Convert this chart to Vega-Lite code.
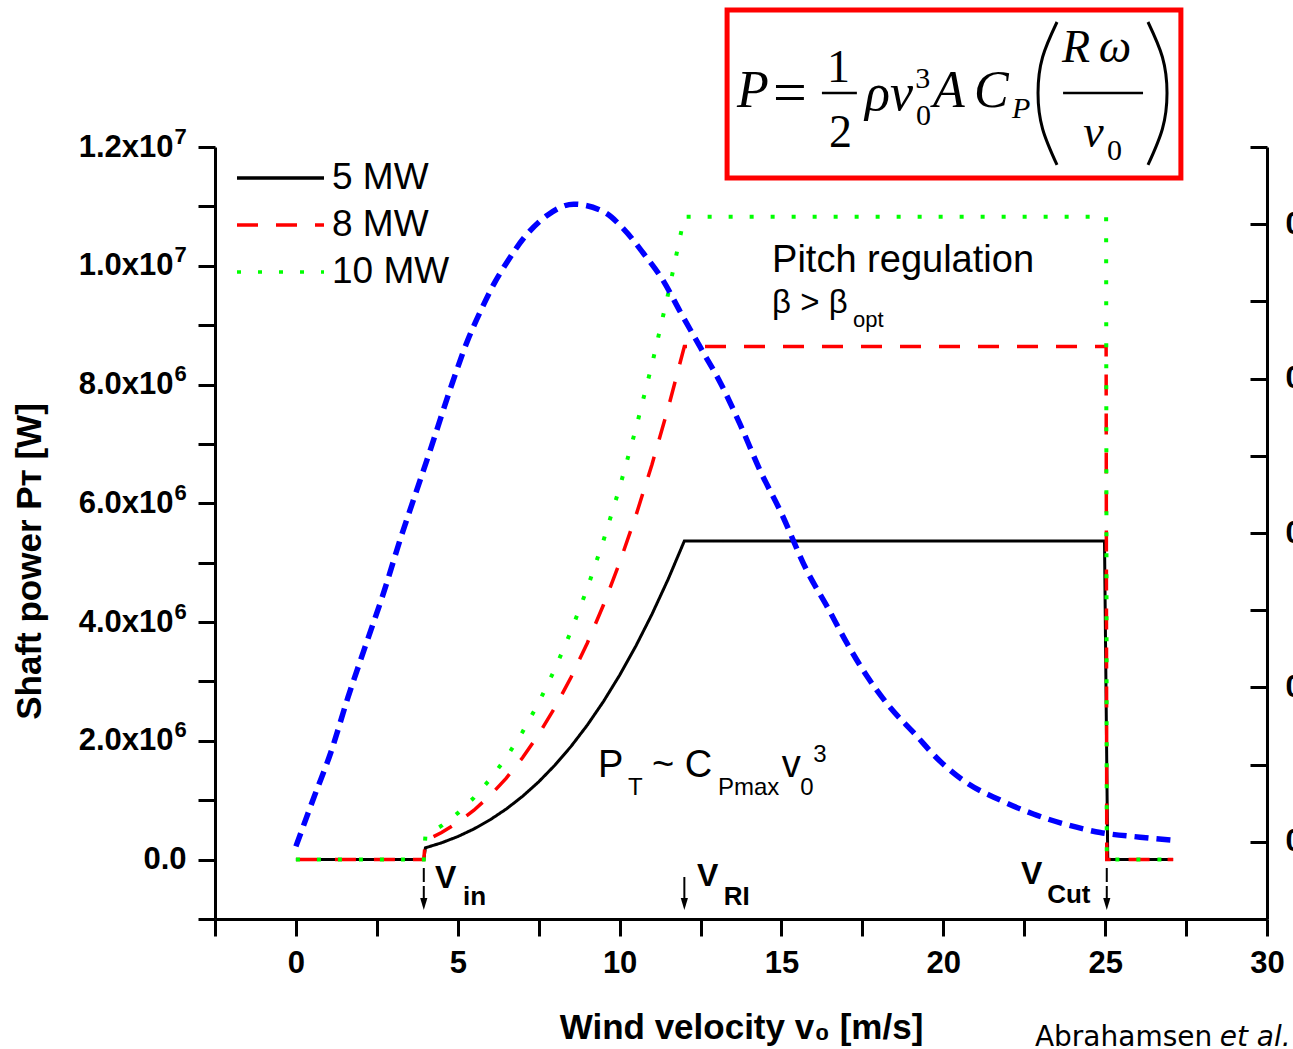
{
  "$schema": "https://vega.github.io/schema/vega-lite/v6.json",
  "width": 1052,
  "height": 772,
  "autosize": {"type": "none"},
  "padding": {"left": 215, "top": 147, "right": 26, "bottom": 130},
  "background": "white",
  "config": {
    "view": {"stroke": null},
    "axis": {"grid": false, "domainColor": "#000000", "domainWidth": 3, "tickColor": "#000000", "tickWidth": 3, "labelFont": "Liberation Sans", "labelFontWeight": "bold", "labelFontSize": 31, "labelColor": "#000000", "titleFont": "Liberation Sans", "titleFontWeight": "bold", "titleFontSize": 35, "titleColor": "#000000", "labelOverlap": false, "labelFlush": false, "labelBound": false}
  },
  "datasets": {
    "power": [
      {"series": "5 MW", "v": 0, "P": 0}, {"series": "5 MW", "v": 3.95, "P": 0}, {"series": "5 MW", "v": 4, "P": 198720}, {"series": "5 MW", "v": 4.5, "P": 282943}, {"series": "5 MW", "v": 5, "P": 388125}, {"series": "5 MW", "v": 5.5, "P": 516594}, {"series": "5 MW", "v": 6, "P": 670680}, {"series": "5 MW", "v": 6.5, "P": 852711}, {"series": "5 MW", "v": 7, "P": 1065015}, {"series": "5 MW", "v": 7.5, "P": 1309922}, {"series": "5 MW", "v": 8, "P": 1589760}, {"series": "5 MW", "v": 8.5, "P": 1906858}, {"series": "5 MW", "v": 9, "P": 2263545}, {"series": "5 MW", "v": 9.5, "P": 2662149}, {"series": "5 MW", "v": 10, "P": 3105000}, {"series": "5 MW", "v": 10.5, "P": 3594426}, {"series": "5 MW", "v": 11, "P": 4132755}, {"series": "5 MW", "v": 11.5, "P": 4722317}, {"series": "5 MW", "v": 12, "P": 5365440}, {"series": "5 MW", "v": 24.98, "P": 5365440}, {"series": "5 MW", "v": 25.08, "P": 0}, {"series": "5 MW", "v": 27.1, "P": 0},
      {"series": "8 MW", "v": 0, "P": 0}, {"series": "8 MW", "v": 3.95, "P": 0}, {"series": "8 MW", "v": 4, "P": 320000}, {"series": "8 MW", "v": 4.5, "P": 455625}, {"series": "8 MW", "v": 5, "P": 625000}, {"series": "8 MW", "v": 5.5, "P": 831875}, {"series": "8 MW", "v": 6, "P": 1080000}, {"series": "8 MW", "v": 6.5, "P": 1373125}, {"series": "8 MW", "v": 7, "P": 1715000}, {"series": "8 MW", "v": 7.5, "P": 2109375}, {"series": "8 MW", "v": 8, "P": 2560000}, {"series": "8 MW", "v": 8.5, "P": 3070625}, {"series": "8 MW", "v": 9, "P": 3645000}, {"series": "8 MW", "v": 9.5, "P": 4286875}, {"series": "8 MW", "v": 10, "P": 5000000}, {"series": "8 MW", "v": 10.5, "P": 5788125}, {"series": "8 MW", "v": 11, "P": 6655000}, {"series": "8 MW", "v": 11.5, "P": 7604375}, {"series": "8 MW", "v": 12, "P": 8640000}, {"series": "8 MW", "v": 25.03, "P": 8640000}, {"series": "8 MW", "v": 25.05, "P": 0}, {"series": "8 MW", "v": 27.1, "P": 0},
      {"series": "10 MW", "v": 0, "P": 0}, {"series": "10 MW", "v": 3.95, "P": 0}, {"series": "10 MW", "v": 4, "P": 400960}, {"series": "10 MW", "v": 4.5, "P": 570898}, {"series": "10 MW", "v": 5, "P": 783125}, {"series": "10 MW", "v": 5.5, "P": 1042339}, {"series": "10 MW", "v": 6, "P": 1353240}, {"series": "10 MW", "v": 6.5, "P": 1720526}, {"series": "10 MW", "v": 7, "P": 2148895}, {"series": "10 MW", "v": 7.5, "P": 2643047}, {"series": "10 MW", "v": 8, "P": 3207680}, {"series": "10 MW", "v": 8.5, "P": 3847493}, {"series": "10 MW", "v": 9, "P": 4567185}, {"series": "10 MW", "v": 9.5, "P": 5371454}, {"series": "10 MW", "v": 10, "P": 6265000}, {"series": "10 MW", "v": 10.5, "P": 7252521}, {"series": "10 MW", "v": 11, "P": 8338715}, {"series": "10 MW", "v": 11.5, "P": 9528282}, {"series": "10 MW", "v": 12, "P": 10825920}, {"series": "10 MW", "v": 25.03, "P": 10825920}, {"series": "10 MW", "v": 25.05, "P": 0}, {"series": "10 MW", "v": 27.1, "P": 0}
    ],
    "cp": [
      {"v": 0.0, "Cp": -0.003}, {"v": 0.56, "Cp": 0.029}, {"v": 1.08, "Cp": 0.058}, {"v": 1.6, "Cp": 0.093}, {"v": 2.1, "Cp": 0.124}, {"v": 2.72, "Cp": 0.162}, {"v": 3.24, "Cp": 0.197}, {"v": 3.64, "Cp": 0.222}, {"v": 4.17, "Cp": 0.255}, {"v": 4.78, "Cp": 0.294}, {"v": 5.31, "Cp": 0.325}, {"v": 5.71, "Cp": 0.344}, {"v": 6.11, "Cp": 0.361}, {"v": 6.54, "Cp": 0.376}, {"v": 7.04, "Cp": 0.391}, {"v": 7.78, "Cp": 0.406}, {"v": 8.58, "Cp": 0.413}, {"v": 9.51, "Cp": 0.408}, {"v": 10.12, "Cp": 0.397}, {"v": 10.74, "Cp": 0.381}, {"v": 11.36, "Cp": 0.363}, {"v": 11.88, "Cp": 0.343}, {"v": 12.5, "Cp": 0.32}, {"v": 13.12, "Cp": 0.297}, {"v": 13.73, "Cp": 0.27}, {"v": 14.35, "Cp": 0.24}, {"v": 14.97, "Cp": 0.214}, {"v": 15.8, "Cp": 0.175}, {"v": 16.42, "Cp": 0.152}, {"v": 17.04, "Cp": 0.128}, {"v": 17.65, "Cp": 0.107}, {"v": 18.36, "Cp": 0.087}, {"v": 19.07, "Cp": 0.071}, {"v": 19.91, "Cp": 0.052}, {"v": 20.74, "Cp": 0.038}, {"v": 21.76, "Cp": 0.027}, {"v": 22.78, "Cp": 0.018}, {"v": 23.83, "Cp": 0.011}, {"v": 24.85, "Cp": 0.006}, {"v": 26.08, "Cp": 0.003}, {"v": 27.1, "Cp": 0.001}
    ],
    "parens": [
      {"g": "(", "i": 0, "v": 23.513, "P": 14105000}, {"g": "(", "i": 1, "v": 23.068, "P": 13515000}, {"g": "(", "i": 2, "v": 22.926, "P": 12909000}, {"g": "(", "i": 3, "v": 23.068, "P": 12303000}, {"g": "(", "i": 4, "v": 23.513, "P": 11697000},
      {"g": ")", "i": 0, "v": 26.323, "P": 14105000}, {"g": ")", "i": 1, "v": 26.768, "P": 13515000}, {"g": ")", "i": 2, "v": 26.911, "P": 12909000}, {"g": ")", "i": 3, "v": 26.768, "P": 12303000}, {"g": ")", "i": 4, "v": 26.323, "P": 11697000}
    ]
  },
  "layer": [
    {
      "layer": [
        {
          "layer": [
            {
              "data": {"values": [{}]},
              "mark": {"type": "rect", "filled": false, "color": "#ff0000", "strokeWidth": 5},
              "encoding": {
                "x": {"datum": 13.32, "type": "quantitative"},
                "x2": {"datum": 27.34},
                "y": {"datum": 14307000, "type": "quantitative"},
                "y2": {"datum": 11478000}
              }
            },
            {
              "data": {"values": [{"t": "P", "v": 13.63, "P": 12673000}, {"t": "ρv", "v": 17.58, "P": 12623000}, {"t": "A", "v": 19.68, "P": 12673000}, {"t": "C", "v": 20.95, "P": 12673000}]},
              "mark": {"type": "text", "align": "left", "baseline": "alphabetic", "font": "Liberation Serif", "fontStyle": "italic", "fontSize": 52, "color": "#000000"},
              "encoding": {"x": {"field": "v", "type": "quantitative"}, "y": {"field": "P", "type": "quantitative"}, "text": {"field": "t"}}
            },
            {
              "data": {"values": [{"t": "=", "v": 14.74, "P": 12590000}]},
              "mark": {"type": "text", "align": "left", "baseline": "alphabetic", "font": "Liberation Serif", "fontSize": 60, "color": "#000000"},
              "encoding": {"x": {"field": "v", "type": "quantitative"}, "y": {"field": "P", "type": "quantitative"}, "text": {"field": "t"}}
            },
            {
              "data": {"values": [{"t": "1", "v": 16.41, "P": 13094000}, {"t": "2", "v": 16.47, "P": 12000000}]},
              "mark": {"type": "text", "align": "left", "baseline": "alphabetic", "font": "Liberation Serif", "fontSize": 46, "color": "#000000"},
              "encoding": {"x": {"field": "v", "type": "quantitative"}, "y": {"field": "P", "type": "quantitative"}, "text": {"field": "t"}}
            },
            {
              "data": {"values": [{"t": "3", "v": 19.13, "P": 12993000}, {"t": "0", "v": 19.16, "P": 12370000}, {"t": "0", "v": 25.06, "P": 11781000}]},
              "mark": {"type": "text", "align": "left", "baseline": "alphabetic", "font": "Liberation Serif", "fontSize": 30, "color": "#000000"},
              "encoding": {"x": {"field": "v", "type": "quantitative"}, "y": {"field": "P", "type": "quantitative"}, "text": {"field": "t"}}
            },
            {
              "data": {"values": [{"t": "P", "v": 22.12, "P": 12488000}]},
              "mark": {"type": "text", "align": "left", "baseline": "alphabetic", "font": "Liberation Serif", "fontStyle": "italic", "fontSize": 30, "color": "#000000"},
              "encoding": {"x": {"field": "v", "type": "quantitative"}, "y": {"field": "P", "type": "quantitative"}, "text": {"field": "t"}}
            },
            {
              "data": {"values": [{"t": "R", "v": 23.67, "P": 13431000}, {"t": "ω", "v": 24.8, "P": 13431000}, {"t": "v", "v": 24.32, "P": 12000000}]},
              "mark": {"type": "text", "align": "left", "baseline": "alphabetic", "font": "Liberation Serif", "fontStyle": "italic", "fontSize": 46, "color": "#000000"},
              "encoding": {"x": {"field": "v", "type": "quantitative"}, "y": {"field": "P", "type": "quantitative"}, "text": {"field": "t"}}
            },
            {
              "data": {"values": [{"v": 16.25, "v2": 17.33, "P": 12909000}, {"v": 23.7, "v2": 26.17, "P": 12909000}]},
              "mark": {"type": "rule", "color": "#000000", "strokeWidth": 2.5},
              "encoding": {"x": {"field": "v", "type": "quantitative"}, "x2": {"field": "v2"}, "y": {"field": "P", "type": "quantitative"}}
            },
            {
              "data": {"name": "parens"},
              "mark": {"type": "line", "color": "#000000", "strokeWidth": 3, "interpolate": "natural"},
              "encoding": {"x": {"field": "v", "type": "quantitative"}, "y": {"field": "P", "type": "quantitative"}, "detail": {"field": "g"}, "order": {"field": "i", "type": "quantitative"}}
            },
            {
              "data": {"name": "power"},
              "transform": [{"filter": "datum.series === '5 MW'"}],
              "mark": {"type": "line", "strokeWidth": 3},
              "encoding": {
                "x": {"field": "v", "type": "quantitative", "scale": {"domain": [-2.5, 30], "nice": false, "zero": false},
                  "axis": {"orient": "bottom", "values": [-2.5, 0, 2.5, 5, 7.5, 10, 12.5, 15, 17.5, 20, 22.5, 25, 27.5, 30], "labelExpr": "datum.value % 5 == 0 ? format(datum.value, 'd') : ''", "tickSize": 17, "labelPadding": 12, "title": "Wind velocity v₀ [m/s]", "titleY": 119, "titleBaseline": "alphabetic",
                    "encode": {"ticks": {"update": {"y2": {"signal": "datum.value % 5 == 0 ? 17 : 9"}}}}}},
                "y": {"field": "P", "type": "quantitative", "scale": {"domain": [-1000000, 12000000], "nice": false, "zero": false},
                  "axis": {"orient": "left", "values": [-1000000, 0, 1000000, 2000000, 3000000, 4000000, 5000000, 6000000, 7000000, 8000000, 9000000, 10000000, 11000000, 12000000], "labelExpr": "datum.value % 2000000 != 0 || datum.value == 0 ? '' : (datum.value >= 10000000 ? format(datum.value / 10000000, '.1f') + 'x10' : format(datum.value / 1000000, '.1f') + 'x10')", "tickSize": 17, "labelPadding": 25, "title": "Shaft power Pᴛ  [W]", "titleX": -175, "titleY": 414, "titleBaseline": "alphabetic", "titleAlign": "center", "titleAngle": 270,
                    "encode": {"ticks": {"update": {"x2": {"signal": "datum.value % 2000000 == 0 ? -17 : -9"}}}}}},
                "color": {"field": "series", "type": "nominal", "scale": {"domain": ["5 MW", "8 MW", "10 MW"], "range": ["#000000", "#ff0000", "#00ff00"]},
                  "legend": {"orient": "none", "legendX": 20, "legendY": 11, "title": null, "symbolType": "stroke", "symbolSize": 7569, "symbolStrokeWidth": 3.5, "labelFont": "Liberation Sans", "labelFontSize": 37, "labelColor": "#000000", "labelOffset": 6, "clipHeight": 40, "rowPadding": 7, "padding": 0, "offset": 0}},
                "strokeDash": {"field": "series", "type": "nominal", "scale": {"domain": ["5 MW", "8 MW", "10 MW"], "range": [[1, 0], [21, 18], [4, 17]]},
                  "legend": {"orient": "none", "legendX": 20, "legendY": 11, "title": null, "symbolType": "stroke", "symbolSize": 7569, "symbolStrokeWidth": 3.5, "labelFont": "Liberation Sans", "labelFontSize": 37, "labelColor": "#000000", "labelOffset": 6, "clipHeight": 40, "rowPadding": 7, "padding": 0, "offset": 0}}
              }
            },
            {
              "data": {"name": "power"},
              "transform": [{"filter": "datum.series === '8 MW'"}],
              "mark": {"type": "line", "strokeWidth": 3.5},
              "encoding": {
                "x": {"field": "v", "type": "quantitative"},
                "y": {"field": "P", "type": "quantitative"},
                "color": {"field": "series", "type": "nominal"},
                "strokeDash": {"field": "series", "type": "nominal"}
              }
            },
            {
              "data": {"name": "power"},
              "transform": [{"filter": "datum.series === '10 MW'"}],
              "mark": {"type": "line", "strokeWidth": 4},
              "encoding": {
                "x": {"field": "v", "type": "quantitative"},
                "y": {"field": "P", "type": "quantitative"},
                "color": {"field": "series", "type": "nominal"},
                "strokeDash": {"field": "series", "type": "nominal"}
              }
            },
            {
              "data": {"values": [{"v": 3.95, "P": -141000, "P2": -646000}, {"v": 25.05, "P": -141000, "P2": -646000}]},
              "mark": {"type": "rule", "color": "#000000", "strokeWidth": 2, "strokeDash": [14, 4]},
              "encoding": {"x": {"field": "v", "type": "quantitative"}, "y": {"field": "P", "type": "quantitative"}, "y2": {"field": "P2"}}
            },
            {
              "data": {"values": [{"v": 12, "P": -293000, "P2": -646000}]},
              "mark": {"type": "rule", "color": "#000000", "strokeWidth": 2},
              "encoding": {"x": {"field": "v", "type": "quantitative"}, "y": {"field": "P", "type": "quantitative"}, "y2": {"field": "P2"}}
            },
            {
              "data": {"values": [{"v": 3.95}, {"v": 12}, {"v": 25.05}]},
              "mark": {"type": "point", "shape": "M-0.6,-1L0.6,-1L0,1Z", "size": 144, "filled": true, "color": "#000000", "opacity": 1},
              "encoding": {"x": {"field": "v", "type": "quantitative"}, "y": {"datum": -747000, "type": "quantitative"}}
            },
            {
              "data": {"values": [{"t": "V", "v": 4.3, "P": -478000}, {"t": "V", "v": 12.39, "P": -445000}, {"t": "V", "v": 22.4, "P": -411000}]},
              "mark": {"type": "text", "align": "left", "baseline": "alphabetic", "font": "Liberation Sans", "fontWeight": "bold", "fontSize": 32, "color": "#000000"},
              "encoding": {"x": {"field": "v", "type": "quantitative"}, "y": {"field": "P", "type": "quantitative"}, "text": {"field": "t"}}
            },
            {
              "data": {"values": [{"t": "in", "v": 5.16, "P": -765000}, {"t": "RI", "v": 13.22, "P": -765000}, {"t": "Cut", "v": 23.21, "P": -731000}]},
              "mark": {"type": "text", "align": "left", "baseline": "alphabetic", "font": "Liberation Sans", "fontWeight": "bold", "fontSize": 26, "color": "#000000"},
              "encoding": {"x": {"field": "v", "type": "quantitative"}, "y": {"field": "P", "type": "quantitative"}, "text": {"field": "t"}}
            },
            {
              "data": {"values": [{"t": "Pitch regulation", "v": 14.71, "P": 9895000}]},
              "mark": {"type": "text", "align": "left", "baseline": "alphabetic", "font": "Liberation Sans", "fontSize": 38, "color": "#000000"},
              "encoding": {"x": {"field": "v", "type": "quantitative"}, "y": {"field": "P", "type": "quantitative"}, "text": {"field": "t"}}
            },
            {
              "data": {"values": [{"t": "β > β", "v": 14.71, "P": 9204000}]},
              "mark": {"type": "text", "align": "left", "baseline": "alphabetic", "font": "Liberation Sans", "fontSize": 33, "color": "#000000"},
              "encoding": {"x": {"field": "v", "type": "quantitative"}, "y": {"field": "P", "type": "quantitative"}, "text": {"field": "t"}}
            },
            {
              "data": {"values": [{"t": "opt", "v": 17.21, "P": 8969000}]},
              "mark": {"type": "text", "align": "left", "baseline": "alphabetic", "font": "Liberation Sans", "fontSize": 22, "color": "#000000"},
              "encoding": {"x": {"field": "v", "type": "quantitative"}, "y": {"field": "P", "type": "quantitative"}, "text": {"field": "t"}}
            },
            {
              "data": {"values": [{"t": "P", "v": 9.33, "P": 1391000}, {"t": "~ C", "v": 11.0, "P": 1391000}, {"t": "v", "v": 15.01, "P": 1391000}]},
              "mark": {"type": "text", "align": "left", "baseline": "alphabetic", "font": "Liberation Sans", "fontSize": 38, "color": "#000000"},
              "encoding": {"x": {"field": "v", "type": "quantitative"}, "y": {"field": "P", "type": "quantitative"}, "text": {"field": "t"}}
            },
            {
              "data": {"values": [{"t": "T", "v": 10.26, "P": 1088000}, {"t": "Pmax", "v": 13.04, "P": 1088000}, {"t": "0", "v": 15.58, "P": 1088000}, {"t": "3", "v": 15.98, "P": 1644000}]},
              "mark": {"type": "text", "align": "left", "baseline": "alphabetic", "font": "Liberation Sans", "fontSize": 24, "color": "#000000"},
              "encoding": {"x": {"field": "v", "type": "quantitative"}, "y": {"field": "P", "type": "quantitative"}, "text": {"field": "t"}}
            },
            {
              "data": {"values": [{"t": "Abrahamsen", "v": 22.83, "P": -3139000}]},
              "mark": {"type": "text", "align": "left", "baseline": "alphabetic", "font": "DejaVu Sans", "fontSize": 28, "color": "#000000"},
              "encoding": {"x": {"field": "v", "type": "quantitative"}, "y": {"field": "P", "type": "quantitative"}, "text": {"field": "t"}}
            },
            {
              "data": {"values": [{"t": "et al.", "v": 28.54, "P": -3139000}]},
              "mark": {"type": "text", "align": "left", "baseline": "alphabetic", "font": "DejaVu Sans", "fontStyle": "italic", "fontSize": 28, "color": "#000000"},
              "encoding": {"x": {"field": "v", "type": "quantitative"}, "y": {"field": "P", "type": "quantitative"}, "text": {"field": "t"}}
            }
          ]
        },
        {
          "data": {"values": [{"P": 0}]},
          "mark": {"type": "point", "opacity": 0},
          "encoding": {
            "y": {"field": "P", "type": "quantitative",
              "axis": {"orient": "left", "values": [2000000, 4000000, 6000000, 8000000, 10000000, 12000000], "labelExpr": "datum.value >= 10000000 ? '7' : '6'", "labelFontSize": 22, "labelAlign": "left", "labelPadding": 41, "labelOffset": -11, "ticks": false, "domain": false, "title": null}}
          }
        },
        {
          "data": {"values": [{"P": 0}]},
          "mark": {"type": "point", "opacity": 0},
          "encoding": {
            "y": {"field": "P", "type": "quantitative",
              "axis": {"orient": "left", "values": [0], "labelExpr": "'0.0'", "labelAlign": "right", "labelPadding": 29, "ticks": false, "domain": false, "title": null}}
          }
        }
      ],
      "resolve": {"axis": {"y": "independent"}}
    },
    {
      "data": {"name": "cp"},
      "mark": {"type": "line", "color": "#0000ff", "strokeWidth": 5.5, "strokeDash": [14, 8], "interpolate": "monotone"},
      "encoding": {
        "x": {"field": "v", "type": "quantitative", "scale": {"domain": [-2.5, 30], "nice": false, "zero": false}, "title": "Wind velocity v₀ [m/s]"},
        "y": {"field": "Cp", "type": "quantitative", "scale": {"domain": [-0.05, 0.45], "nice": false, "zero": false},
          "axis": {"orient": "right", "values": [-0.05, 0, 0.05, 0.1, 0.15, 0.2, 0.25, 0.3, 0.35, 0.4, 0.45], "labelExpr": "round(datum.value * 20) % 2 == 0 ? format(datum.value, '.1f') : ''", "tickSize": -17, "labelPadding": 35, "labelAlign": "left", "title": null,
            "encode": {"ticks": {"update": {"x2": {"signal": "round(datum.value * 20) % 2 == 0 ? -17 : -9"}}}}}}
      }
    }
  ],
  "resolve": {"scale": {"y": "independent"}}
}
